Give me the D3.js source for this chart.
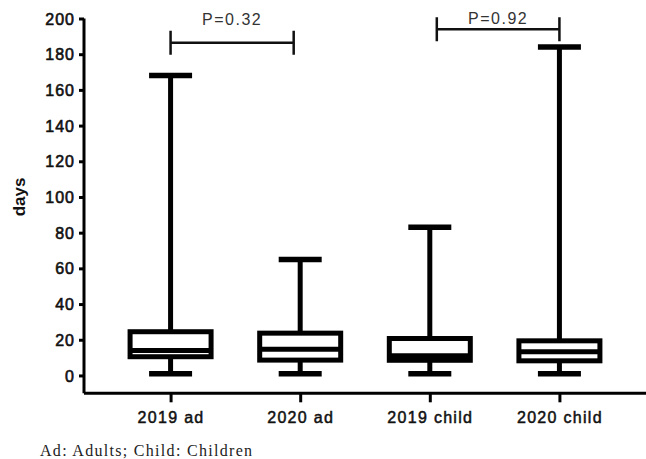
<!DOCTYPE html>
<html>
<head>
<meta charset="utf-8">
<script src="https://cdn.jsdelivr.net/npm/d3@7"></script>
<style>
  body { margin: 0; background: #fff; }
  svg { display: block; }
</style>
</head>
<body>
<svg id="chart" width="646" height="459"></svg>
<script>
// box plot values
const categories = ["2019 ad", "2020 ad", "2019 child", "2020 child"];
const mins    = [1, 1, 1, 1];
const q1s     = [10.5, 8.6, 8.5, 8.2];
const medians = [14, 14.7, 11, 13.3];
const q3s     = [24.5, 23.7, 20.7, 19.4];
const maxs    = [168, 65, 83, 184];
const yTicks  = [0, 20, 40, 60, 80, 100, 120, 140, 160, 180, 200];

// comparison brackets
const pairs       = [[0, 1], [2, 3]];
const pLabels     = ["P=0.32", "P=0.92"];
const pLevels     = [186.4, 194];
const pLabelLevel = [196.6, 196.8];

const font = "Liberation Sans, Arial, sans-serif";
const svg = d3.select("#chart");

const x = d3.scalePoint()
    .domain(categories)
    .range([84, 646])
    .padding(0.668);

const y = d3.scaleLinear()
    .domain([-10, 200])
    .range([393.3, 18.5]);

const boxes = categories.map((c, i) => ({
  cat: c, min: mins[i], q1: q1s[i], med: medians[i], q3: q3s[i], max: maxs[i]
}));

// axes
const yAxis = svg.append("g")
    .attr("transform", "translate(84,0)")
    .call(d3.axisLeft(y).tickValues(yTicks).tickSize(5).tickPadding(4));
yAxis.select(".domain").attr("d", `M0,${y(200)}V${y(-10)}`);

const xAxis = svg.append("g")
    .attr("transform", `translate(0,${y(-10)})`)
    .call(d3.axisBottom(x).tickSize(9).tickPadding(9));
xAxis.select(".domain").attr("d", `M84,0H646`);

svg.selectAll(".domain, .tick line")
    .attr("stroke", "#000")
    .attr("stroke-width", 3);

yAxis.selectAll("text")
    .attr("font-family", font)
    .attr("font-size", 16)
    .attr("letter-spacing", "1px")
    .attr("fill", "#111")
    .attr("stroke", "#111")
    .attr("stroke-width", 0.6)
    .attr("dy", "0.35em");

xAxis.selectAll("text")
    .attr("font-family", font)
    .attr("font-size", 16)
    .attr("letter-spacing", "1.3px")
    .attr("fill", "#111")
    .attr("stroke", "#111")
    .attr("stroke-width", 0.5);

svg.append("text")
    .attr("transform", `translate(25,${y(100)}) rotate(-90)`)
    .attr("text-anchor", "middle")
    .attr("font-family", font)
    .attr("font-size", 17)
    .attr("font-weight", "bold")
    .attr("fill", "#111")
    .text("days");

// boxes
const boxW = 81, capW = 43, lw = 5;
const g = svg.selectAll(".box")
    .data(boxes)
    .enter().append("g")
    .attr("class", "box")
    .attr("transform", d => `translate(${x(d.cat)},0)`);

g.append("line")
    .attr("x1", 0).attr("x2", 0)
    .attr("y1", d => y(d.max)).attr("y2", d => y(d.q3))
    .attr("stroke", "#000").attr("stroke-width", lw);
g.append("line")
    .attr("x1", 0).attr("x2", 0)
    .attr("y1", d => y(d.q1)).attr("y2", d => y(d.min))
    .attr("stroke", "#000").attr("stroke-width", lw);
g.selectAll(".cap")
    .data(d => [d.min, d.max])
    .enter().append("line")
    .attr("x1", -capW / 2).attr("x2", capW / 2)
    .attr("y1", v => y(v)).attr("y2", v => y(v))
    .attr("stroke", "#000").attr("stroke-width", 5.5);
g.append("rect")
    .attr("x", -boxW / 2)
    .attr("width", boxW)
    .attr("y", d => y(d.q3))
    .attr("height", d => y(d.q1) - y(d.q3))
    .attr("fill", "#fff")
    .attr("stroke", "#000").attr("stroke-width", lw);
g.append("line")
    .attr("x1", -boxW / 2).attr("x2", boxW / 2)
    .attr("y1", d => y(d.med)).attr("y2", d => y(d.med))
    .attr("stroke", "#000").attr("stroke-width", lw);

// p-value brackets
const offsets = [[0, -6.5], [7, 0]];
const br = svg.selectAll(".bracket")
    .data(pairs)
    .enter().append("g")
    .attr("class", "bracket");

br.append("path")
    .attr("d", (p, i) => {
      const x0 = x(categories[p[0]]) + offsets[i][0];
      const x1 = x(categories[p[1]]) + offsets[i][1];
      const yy = y(pLevels[i]);
      return `M${x0},${yy - 12}V${yy + 12}M${x0},${yy}H${x1}M${x1},${yy - 12}V${yy + 12}`;
    })
    .attr("fill", "none")
    .attr("stroke", "#111")
    .attr("stroke-width", 2.5);

br.append("text")
    .attr("x", (p, i) => (x(categories[p[0]]) + offsets[i][0] + x(categories[p[1]]) + offsets[i][1]) / 2)
    .attr("y", (p, i) => y(pLabelLevel[i]))
    .attr("text-anchor", "middle")
    .attr("font-family", font)
    .attr("font-size", 16)
    .attr("letter-spacing", "1.5px")
    .attr("fill", "#333")
    .text((p, i) => pLabels[i]);

// caption
svg.append("text")
    .attr("x", 40)
    .attr("y", 456)
    .attr("font-family", "Liberation Serif, Times New Roman, serif")
    .attr("font-size", 16)
    .attr("letter-spacing", "1.3px")
    .attr("fill", "#222")
    .text("Ad: Adults; Child: Children");
</script>
</body>
</html>
